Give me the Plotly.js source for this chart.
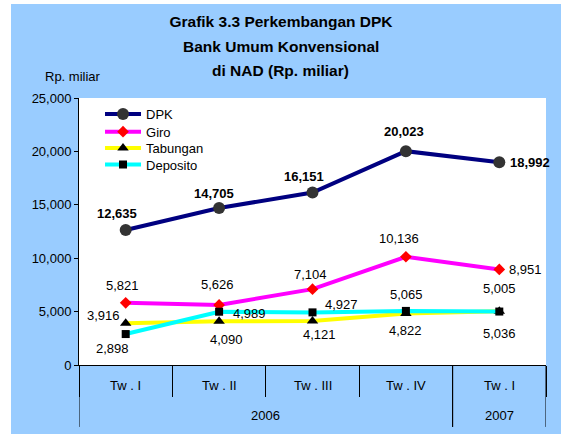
<!DOCTYPE html>
<html>
<head>
<meta charset="utf-8">
<script src="https://cdn.plot.ly/plotly-3.0.1.min.js"></script>
<style>html,body{margin:0;padding:0;background:#fff;}#chart{width:561px;height:434px;}</style>
</head>
<body>
<div id="chart"></div>
<script>
// ---- data ----
var quarters = ["Tw . I", "Tw . II", "Tw . III", "Tw . IV", "Tw . I"];
var years = ["2006", "2006", "2006", "2006", "2007"];
var dpk = [12635, 14705, 16151, 20023, 18992];
var giro = [5821, 5626, 7104, 10136, 8951];
var tabungan = [3916, 4090, 4121, 4822, 5036];
var deposito = [2898, 4989, 4927, 5065, 5005];
var seriesNames = ["DPK", "Giro", "Tabungan", "Deposito"];
var yTickVals = [0, 5000, 10000, 15000, 20000, 25000];

// ---- label offsets (px: [dx, dy downwards]) ----
var offDPK = [[-9,-17],[-5,-14],[-9,-16],[-2,-20],[31,0]];
var offGiro = [[-3,-17],[-2,-20],[-2,-15],[-7,-18],[26,0]];
var offTab = [[-22,-8],[7,18],[7,14],[0,17],[0,22]];
var offDep = [[-13,14],[30,2],[29,-8],[1,-16],[0,-23]];
// legend rows (paper y of each legend box top)
var legendTops = [0.9963, 0.9300, 0.8689, 0.8071];

var FONT = "Liberation Sans, Arial, sans-serif";
var idx = quarters.map(function(_, i){ return i; });
var legendIds = ["legend", "legend2", "legend3", "legend4"];

function tr(k, y, lineColor, marker){
  return {type:"scatter", mode:"lines+markers", name:seriesNames[k], x:idx, y:y,
    legend:legendIds[k], line:{color:lineColor, width:4}, marker:marker, hoverinfo:"skip"};
}
var traces = [
  tr(0, dpk, "#000080", {symbol:"circle", size:12, color:"#333333", line:{width:0}}),
  tr(1, giro, "#FF00FF", {symbol:"diamond", size:9, color:"#FF0000", line:{width:0}}),
  tr(2, tabungan, "#FFFF00", {symbol:"triangle-up", size:10, color:"#000000", line:{width:0}}),
  tr(3, deposito, "#00FFFF", {symbol:"square", size:8, color:"#000000", line:{width:0}})
];

var annotations = [];
function addLabels(vals, offs, bold){
  vals.forEach(function(v, i){
    var t = v.toLocaleString("en-US");
    annotations.push({x:i, y:v, xref:"x", yref:"y", showarrow:false,
      text: bold ? "<b>"+t+"</b>" : t, xanchor:"center", yanchor:"middle",
      xshift:offs[i][0], yshift:-offs[i][1],
      font:{family:FONT, size:13, color:"#000"}});
  });
}
addLabels(dpk, offDPK, true);
addLabels(giro, offGiro, false);
addLabels(tabungan, offTab, false);
addLabels(deposito, offDep, false);

// category labels (inner)
quarters.forEach(function(q, i){
  annotations.push({x:i, y:-0.075, xref:"x", yref:"paper", showarrow:false, text:q,
    xanchor:"center", yanchor:"middle", font:{family:FONT, size:13, color:"#000"}});
});
// year labels (outer), centred on each group
var groups = [];
years.forEach(function(yv, i){
  if(!groups.length || groups[groups.length-1].name !== yv) groups.push({name:yv, start:i, end:i});
  else groups[groups.length-1].end = i;
});
var shapes = [];
groups.forEach(function(g){
  annotations.push({x:(g.start+g.end)/2, y:-0.191, xref:"x", yref:"paper", showarrow:false, text:g.name,
    xanchor:"center", yanchor:"middle", font:{family:FONT, size:13, color:"#000"}});
  [g.start-0.5, g.end+0.5].forEach(function(bx){
    shapes.push({type:"line", xref:"x", yref:"paper", x0:bx, x1:bx, y0:0, y1:-0.232,
      line:{color:"#000", width:1}});
  });
});
// title lines 2,3 and unit label
annotations.push({xref:"paper", yref:"paper", x:0.4325, y:1.1920, showarrow:false,
  text:"<b>Bank Umum Konvensional</b>", xanchor:"center", yanchor:"middle",
  font:{family:FONT, size:15.5, color:"#000"}});
annotations.push({xref:"paper", yref:"paper", x:0.4325, y:1.1030, showarrow:false,
  text:"<b>di NAD (Rp. miliar)</b>", xanchor:"center", yanchor:"middle",
  font:{family:FONT, size:15.5, color:"#000"}});
annotations.push({xref:"paper", yref:"paper", x:-0.0139, y:1.0787, showarrow:false,
  text:"Rp. miliar", xanchor:"center", yanchor:"middle",
  font:{family:FONT, size:13, color:"#000"}});

// white page strips outside the blue panel
shapes.push({type:"rect", xref:"paper", yref:"paper", x0:-0.2, x1:-0.1456, y0:-0.3, y1:1.4,
  fillcolor:"#fff", line:{width:0}, layer:"below"});
shapes.push({type:"rect", xref:"paper", yref:"paper", x0:-0.2, x1:1.1, y0:1.352, y1:1.4,
  fillcolor:"#fff", line:{width:0}, layer:"below"});

var boundaries = quarters.map(function(_, i){ return i - 0.5; }).concat([quarters.length - 0.5]);

var layout = {
  width:561, height:434,
  margin:{l:79, r:15, t:98, b:69, pad:0},
  paper_bgcolor:"#99CCFF", plot_bgcolor:"#FFFFFF",
  font:{family:FONT, size:13, color:"#000"},
  title:{text:"<b>Grafik 3.3 Perkembangan DPK</b>", x:0.5009, xref:"container", xanchor:"center",
    y:0.950, yref:"container", yanchor:"middle", font:{family:FONT, size:15.5, color:"#000"}},
  showlegend:true,
  xaxis:{range:[-0.5, quarters.length-0.5], showgrid:false, zeroline:false, showline:true,
    linecolor:"#000", linewidth:1, tickmode:"array", tickvals:boundaries, ticks:"outside",
    ticklen:31, tickcolor:"#000", tickwidth:1, showticklabels:false, fixedrange:true},
  yaxis:{range:[0, 25000], tickmode:"array", tickvals:yTickVals, tickformat:",d",
    showgrid:false, zeroline:false, showline:true, linecolor:"#000", linewidth:1,
    ticks:"outside", ticklen:4, tickcolor:"#000", tickfont:{family:FONT, size:13, color:"#000"},
    fixedrange:true},
  annotations:annotations,
  shapes:shapes
};
legendIds.forEach(function(id, k){
  layout[id] = {x:0.045, y:legendTops[k], xanchor:"left", yanchor:"top",
    bgcolor:"rgba(255,255,255,0)", borderwidth:0, itemwidth:36,
    font:{family:FONT, size:13, color:"#000"}};
});

Plotly.newPlot("chart", traces, layout, {displayModeBar:false, staticPlot:true});
</script>
</body>
</html>
